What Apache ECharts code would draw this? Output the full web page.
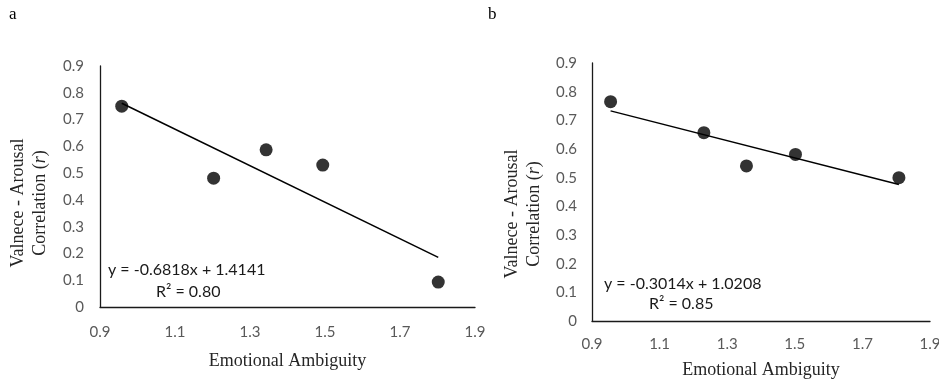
<!DOCTYPE html>
<html><head><meta charset="utf-8">
<script src="https://cdn.jsdelivr.net/npm/echarts@6/dist/echarts.min.js"></script>
<style>html,body{margin:0;padding:0;background:#fff}#c{width:939px;height:381px}</style>
</head><body><div id="c"></div>
<script>
// Panel a
const xA = [0.958, 1.203, 1.343, 1.494, 1.802];
const yA = [0.750, 0.481, 0.587, 0.530, 0.093];
const fitA = [-0.6818, 1.4141]; // slope, intercept
// Panel b
const xB = [0.955, 1.231, 1.357, 1.502, 1.808];
const yB = [0.765, 0.657, 0.541, 0.581, 0.500];
const fitB = [-0.3014, 1.0208];
const xTicks = [0.9, 1.1, 1.3, 1.5, 1.7, 1.9];
const yTicks = [0, 0.1, 0.2, 0.3, 0.4, 0.5, 0.6, 0.7, 0.8, 0.9];
const eqA = ['y = -0.6818x + 1.4141', 'R² = 0.80'];
const eqB = ['y = -0.3014x + 1.0208', 'R² = 0.85'];

const pts = (xs, ys) => xs.map((x, i) => [x, ys[i]]);
const fitLine = (xs, f) => {
  const lo = Math.min(...xs), hi = Math.max(...xs);
  return [[lo, f[0]*lo + f[1]], [hi, f[0]*hi + f[1]]];
};
const tickFont = {color:'#595959', fontSize:15, fontFamily:'Lato'};
const serif = 'Liberation Serif';
function xAx(i, margin, gap){
  return {type:'value', gridIndex:i, min:0.9, max:1.9, interval:0.2,
    axisLine:{lineStyle:{color:'#1a1a1a', width:1.3}}, axisTick:{show:false}, splitLine:{show:false},
    axisLabel:Object.assign({margin:margin, formatter:v=>String(+v.toFixed(1))}, tickFont),
    name:'Emotional Ambiguity', nameLocation:'middle', nameGap:gap,
    nameTextStyle:{fontFamily:serif, fontSize:18, color:'#262626'}};
}
function yAx(i, margin){
  return {type:'value', gridIndex:i, min:0, max:0.9, interval:0.1,
    axisLine:{show:true, lineStyle:{color:'#1a1a1a', width:1.3}}, axisTick:{show:false}, splitLine:{show:false},
    axisLabel:Object.assign({margin:margin, formatter:v=>String(+v.toFixed(1))}, tickFont)};
}
function yTitle(cx, cy){
  return {type:'text', x:cx, y:cy, rotation:Math.PI/2,
    style:{text:'Valnece - Arousal\nCorrelation ({i|r})', align:'center', verticalAlign:'middle',
      fill:'#262626', font:'18px "Liberation Serif"', lineHeight:22,
      rich:{i:{fontFamily:serif, fontSize:18, fontStyle:'italic', fill:'#262626'}}}};
}
function eqText(lines, x1, y1, x2, y2){
  return [
    {type:'text', left:x1, top:y1, style:{text:lines[0], fill:'#1a1a1a', font:'16px Lato'}},
    {type:'text', left:x2, top:y2, style:{text:lines[1], fill:'#1a1a1a', font:'16px Lato'}}
  ];
}
const chart = echarts.init(document.getElementById('c'), null, {renderer:'canvas'});
chart.setOption({
  animation:false,
  backgroundColor:'#fff',
  grid:[{left:100, top:66, width:375, height:241, outerBoundsMode:'none', containLabel:false},
        {left:592, top:63, width:338, height:258, outerBoundsMode:'none', containLabel:false}],
  xAxis:[xAx(0, 18, 45), xAx(1, 16, 40)],
  yAxis:[yAx(0, 16), yAx(1, 15)],
  series:[
    {type:'scatter', xAxisIndex:0, yAxisIndex:0, data:pts(xA, yA), symbolSize:13, itemStyle:{color:'#000'}},
    {type:'line', xAxisIndex:0, yAxisIndex:0, data:fitLine(xA, fitA), symbol:'none', lineStyle:{color:'#000', width:1.5}},
    {type:'scatter', xAxisIndex:1, yAxisIndex:1, data:pts(xB, yB), symbolSize:13, itemStyle:{color:'#000'}},
    {type:'line', xAxisIndex:1, yAxisIndex:1, data:fitLine(xB, fitB), symbol:'none', lineStyle:{color:'#000', width:1.5}}
  ],
  graphic:[
    {type:'text', left:9, top:6, style:{text:'a', fill:'#000', font:'17px "Liberation Serif"'}},
    {type:'text', left:488, top:6, style:{text:'b', fill:'#000', font:'17px "Liberation Serif"'}},
    yTitle(29, 203),
    yTitle(523, 214),
    ...eqText(eqA, 108, 262, 156, 284),
    ...eqText(eqB, 604, 276, 649, 296)
  ]
});
</script></body></html>
